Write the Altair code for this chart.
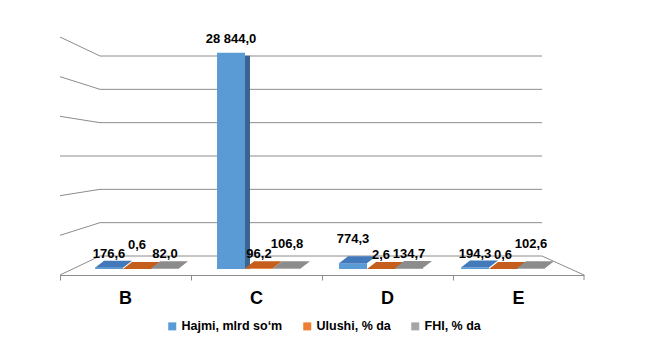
import altair as alt
import pandas as pd

# ---- data ----
categories = ["B", "C", "D", "E"]
series = ["Hajmi, mlrd so‘m", "Ulushi, % da", "FHI, % da"]
hajmi = [176.6, 28844.0, 774.3, 194.3]
ulushi = [0.6, 96.2, 2.6, 0.6]
fhi = [82.0, 106.8, 134.7, 102.6]
grid_values = [0, 5000, 10000, 15000, 20000, 25000, 30000]

# ---- styling ----
FONT = "Liberation Sans"
GRID = "#8c8c8c"
front_colors = ["#5B9BD5", "#ED7D31", "#A5A5A5"]
top_colors = ["#4179BA", "#C55E1C", "#8C8C8C"]
side_colors = ["#3B6591", "#A5511A", "#7A7A7A"]
raised_labels = {("B", series[1]), ("C", series[2]), ("D", series[0]), ("E", series[2])}
# parallelogram used for the visible top face of the short 3-D columns
TOP_FACE = "M-1,0.19L0.51,0.19L1,-0.19L-0.51,-0.19Z"

rows = []
for s, vals, tc, sc in zip(series, [hajmi, ulushi, fhi], top_colors, side_colors):
    for c, v in zip(categories, vals):
        lab = f"{v:,.1f}".replace(",", " ").replace(".", ",")
        rows.append(dict(cat=c, series=s, value=v, label=lab, top=tc, side=sc,
                         raised=(c, s) in raised_labels))
df = pd.DataFrame(rows)
grid_df = pd.DataFrame({"g": grid_values})

W, H = 524, 239
bar_y = alt.Scale(domain=[-800, 31073], nice=False, zero=False)
grid_y = alt.Scale(domain=[-2850, 33000], nice=False, zero=False)
bar_off = alt.Scale(domain=series, paddingInner=0, paddingOuter=0.68)


def xenc(shift=0.0):
    return dict(
        x=alt.X("cat:N", axis=None, sort=categories,
                scale=alt.Scale(domain=categories, range=[16 + shift, 504 + shift],
                                paddingInner=0, paddingOuter=0)),
        xOffset=alt.XOffset("series:N", scale=bar_off, sort=series),
    )


def yenc():
    return alt.Y("value:Q", scale=bar_y, axis=None, stack=None)


base = alt.Chart(df)

# back-wall gridlines
grid_h = alt.Chart(grid_df).mark_rule(color=GRID, strokeWidth=1).encode(
    x=alt.value(40), x2=alt.value(482),
    y=alt.Y("g:Q", scale=grid_y, axis=None),
)
# side-wall (perspective) segments
grid_slant = alt.Chart(grid_df).transform_calculate(
    gl="15000 + 1.19 * (datum.g - 15000)"
).mark_rule(color=GRID, strokeWidth=1).encode(
    x=alt.value(0), x2=alt.value(40),
    y=alt.Y("gl:Q", scale=grid_y, axis=None), y2="g:Q",
)
floor_right = alt.Chart(grid_df.head(1)).mark_rule(color=GRID, strokeWidth=1).encode(
    x=alt.value(482), x2=alt.value(524),
    y=alt.Y("g:Q", scale=grid_y, axis=None), y2=alt.datum(-2850),
)
last_tick = alt.Chart(grid_df.head(1)).mark_rule(color=GRID, strokeWidth=1).encode(
    x=alt.value(W), y=alt.value(H), y2=alt.value(H + 5),
)

axis_layer = alt.Chart(pd.DataFrame({"cat": categories})).mark_rule(opacity=0).encode(
    x=alt.X("cat:N", sort=categories,
            scale=alt.Scale(paddingInner=0, paddingOuter=0),
            axis=alt.Axis(title=None, labelAngle=0, labelFont=FONT, labelFontSize=18,
                          labelFontWeight="bold", labelColor="black", domainColor=GRID,
                          tickColor=GRID, tickSize=5, bandPosition=0, labelPadding=9,
                          grid=False)),
    y=alt.value(0), y2=alt.value(H),
)

# dark right-hand side of the tall column
side_tall = base.transform_filter("datum.value >= 5000").mark_bar(yOffset=3).encode(
    y=yenc(), y2=alt.datum(0),
    fill=alt.Fill("side:N", scale=None),
    **xenc(5),
)
front = base.mark_bar().encode(
    y=yenc(), y2=alt.datum(0),
    color=alt.Color("series:N", sort=series,
                    scale=alt.Scale(domain=series, range=front_colors),
                    legend=alt.Legend(orient="none", legendX=106, legendY=284,
                                      direction="horizontal", title=None,
                                      symbolType="square", symbolSize=64,
                                      symbolStrokeWidth=0, labelFont=FONT,
                                      labelFontSize=12.5, labelFontWeight="bold",
                                      labelColor="black", columnPadding=18,
                                      labelOffset=3, padding=0)),
    **xenc(),
)
# visible top faces of the short columns
top_faces = base.transform_filter("datum.value < 5000").mark_point(
    shape=TOP_FACE, size=1369, filled=True, opacity=1, strokeWidth=0, yOffset=-3.5
).encode(
    y=yenc(),
    fill=alt.Fill("top:N", scale=None),
    **xenc(4.5),
)

text_kw = dict(font=FONT, fontSize=13, fontWeight="bold", color="black",
               baseline="alphabetic")
labels_low = base.transform_filter("!datum.raised").mark_text(dy=-10, **text_kw).encode(
    y=yenc(), text="label:N", **xenc(),
)
labels_high = base.transform_filter("datum.raised").mark_text(dy=-20, **text_kw).encode(
    y=yenc(), text="label:N", **xenc(),
)

chart = alt.layer(
    grid_h, grid_slant, floor_right, last_tick, axis_layer,
    side_tall, front, top_faces, labels_low, labels_high,
).resolve_scale(x="independent", y="independent").properties(
    width=W, height=H,
    padding={"left": 52, "top": 28, "right": 58, "bottom": 77},
    autosize=alt.AutoSizeParams(type="none"),
    background="white",
).configure_view(stroke=None)

chart.save("out.html", embed_options={"renderer": "svg", "actions": False})
